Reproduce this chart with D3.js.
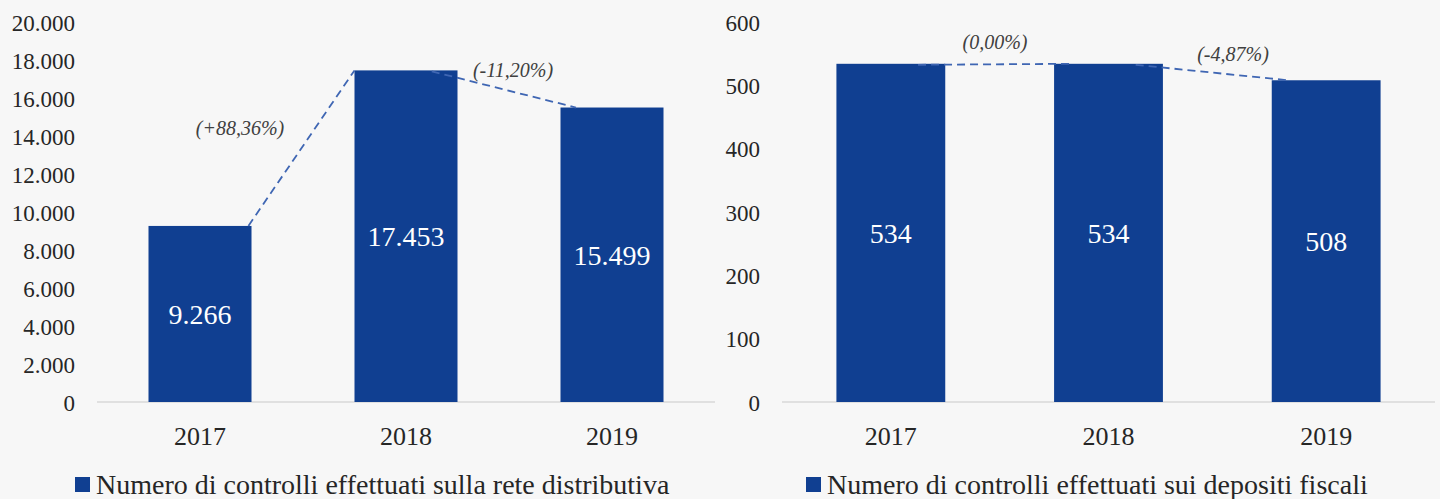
<!DOCTYPE html>
<html>
<head>
<meta charset="utf-8">
<script src="https://cdn.jsdelivr.net/npm/d3@7"></script>
<style>
  body { margin: 0; background: #f7f7f7; }
  svg { display: block; font-family: "Liberation Serif", "DejaVu Serif", serif; }
</style>
</head>
<body>
<script>
var w = 1440;
var h = 499;

// data
var years = ["2017", "2018", "2019"];
var reteValues = [9266, 17453, 15499];
var depositiValues = [534, 534, 508];
var reteTicks = [0, 2000, 4000, 6000, 8000, 10000, 12000, 14000, 16000, 18000, 20000];
var depositiTicks = [0, 100, 200, 300, 400, 500, 600];
var reteChanges = ["(+88,36%)", "(-11,20%)"];
var depositiChanges = ["(0,00%)", "(-4,87%)"];
var legendLabels = ["Numero di controlli effettuati sulla rete distributiva",
                    "Numero di controlli effettuati sui depositi fiscali"];

var barColor = "#103f91";
var serif = "'Liberation Serif', 'DejaVu Serif', serif";
var itFmt = d3.formatLocale({decimal: ",", thousands: ".", grouping: [3], currency: ["", "€"]});

var svg = d3.select("body")
    .append("svg")
    .attr("width", w)
    .attr("height", h);

function drawChart(opts) {
    var g = svg.append("g");

    var xScale = d3.scaleBand()
        .domain(years)
        .range([opts.x0, opts.x1])
        .paddingInner(0.5)
        .paddingOuter(0.25);

    var yScale = d3.scaleLinear()
        .domain([0, opts.max])
        .range([402, 22]);

    // y axis labels (no line)
    var yAxis = d3.axisLeft(yScale)
        .tickValues(opts.ticks)
        .tickSize(0)
        .tickPadding(0)
        .tickFormat(opts.fmt);

    var ya = g.append("g")
        .attr("transform", "translate(" + opts.labelX + ",0)")
        .call(yAxis)
        .attr("font-family", serif);
    ya.select(".domain").remove();
    ya.selectAll("text")
        .attr("font-size", 23)
        .attr("fill", "#262626")
        .attr("dy", "0.35em");

    // baseline
    g.append("line")
        .attr("x1", opts.x0)
        .attr("x2", opts.x1)
        .attr("y1", yScale(0))
        .attr("y2", yScale(0))
        .attr("stroke", "#d9d9d9")
        .attr("stroke-width", 1.5);

    // bars
    g.selectAll(".bar")
        .data(opts.values)
        .enter()
        .append("rect")
        .attr("x", function(d, i) { return xScale(years[i]); })
        .attr("y", function(d) { return yScale(d); })
        .attr("width", xScale.bandwidth())
        .attr("height", function(d) { return yScale(0) - yScale(d); })
        .attr("fill", barColor);

    // value labels
    g.selectAll(".val")
        .data(opts.values)
        .enter()
        .append("text")
        .attr("x", function(d, i) { return xScale(years[i]) + xScale.bandwidth() / 2; })
        .attr("y", function(d) { return (yScale(d) + yScale(0)) / 2; })
        .attr("dy", "0.35em")
        .attr("text-anchor", "middle")
        .attr("font-size", 28)
        .attr("fill", "#ffffff")
        .text(function(d) { return opts.fmt(d); });

    // x axis labels
    var xAxis = d3.axisBottom(xScale).tickSize(0).tickPadding(0);
    var xa = g.append("g")
        .attr("transform", "translate(0,436)")
        .call(xAxis)
        .attr("font-family", serif);
    xa.select(".domain").remove();
    xa.selectAll("text")
        .attr("font-size", 26)
        .attr("fill", "#262626")
        .attr("dy", "0.35em");

    // dashed change lines
    var bw = xScale.bandwidth();
    opts.links.forEach(function(l, i) {
        g.append("line")
            .attr("x1", xScale(years[i]) + l[0] * bw)
            .attr("y1", yScale(opts.values[i]) + l[2])
            .attr("x2", xScale(years[i + 1]) + l[1] * bw)
            .attr("y2", yScale(opts.values[i + 1]))
            .attr("stroke", "#3f66b3")
            .attr("stroke-width", 1.8)
            .attr("stroke-dasharray", "8,5");
    });

    // change annotations
    g.selectAll(".chg")
        .data(opts.changes)
        .enter()
        .append("text")
        .attr("x", function(d, i) { return opts.notePos[i][0]; })
        .attr("y", function(d, i) { return opts.notePos[i][1]; })
        .attr("dy", "0.35em")
        .attr("text-anchor", "middle")
        .attr("font-size", 20)
        .attr("font-style", "italic")
        .attr("fill", "#404040")
        .text(function(d) { return d; });

    // legend
    g.append("rect")
        .attr("x", opts.legendX)
        .attr("y", 477)
        .attr("width", 15)
        .attr("height", 15)
        .attr("fill", barColor);
    g.append("text")
        .attr("x", opts.legendX + 21)
        .attr("y", 494)
        .attr("font-size", 28)
        .attr("fill", "#262626")
        .text(opts.legend);
}

drawChart({
    x0: 97, x1: 715, labelX: 75,
    max: 20000, ticks: reteTicks, values: reteValues,
    fmt: itFmt.format(",d"),
    links: [[0.97, 0, 0], [0.75, 0.15, 1]],
    changes: reteChanges,
    notePos: [[240, 128], [513, 70]],
    legendX: 75, legend: legendLabels[0]
});

drawChart({
    x0: 782, x1: 1435, labelX: 760,
    max: 600, ticks: depositiTicks, values: depositiValues,
    fmt: itFmt.format(",d"),
    links: [[0.75, 0.15, 1], [0.75, 0.15, 1]],
    changes: depositiChanges,
    notePos: [[995, 42], [1233, 54]],
    legendX: 806, legend: legendLabels[1]
});
</script>
</body>
</html>
